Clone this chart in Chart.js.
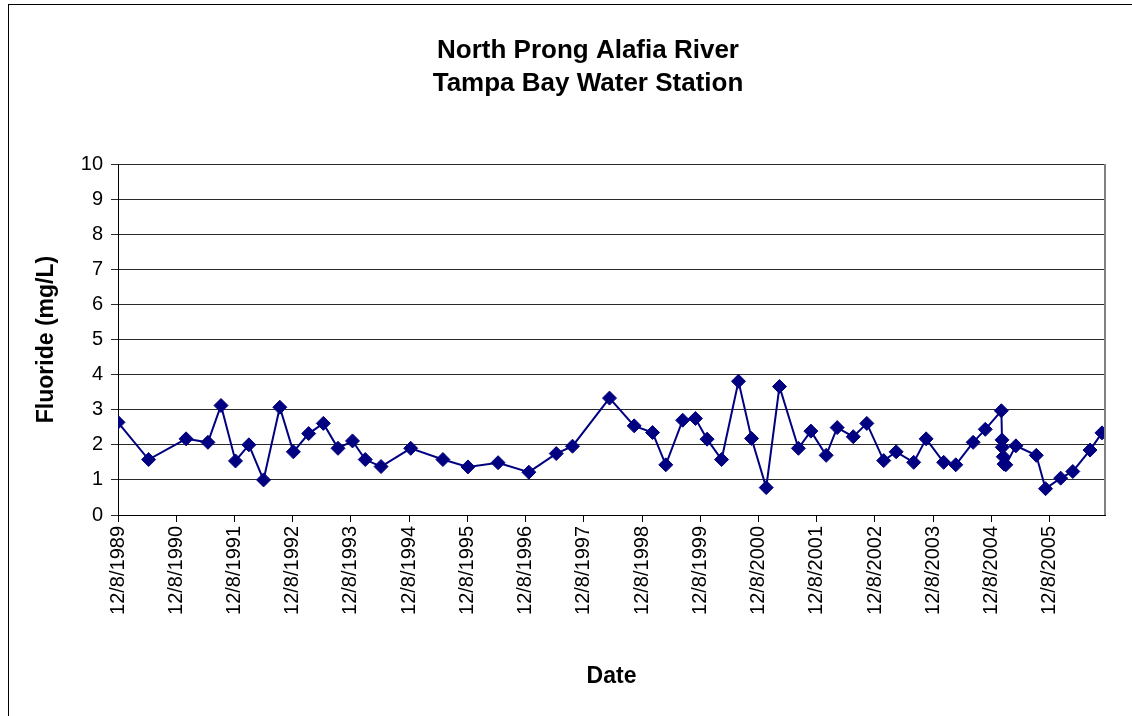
<!DOCTYPE html>
<html>
<head>
<meta charset="utf-8">
<script src="https://cdn.jsdelivr.net/npm/chart.js@4"></script>
<style>
  html, body { margin: 0; padding: 0; background: #fff; overflow: hidden; }
  #wrap { position: absolute; left: 0; top: 0; width: 1132px; height: 716px; }
  #frame { position: absolute; left: 8px; top: 4px; width: 1200px; height: 800px; border: 1px solid #000; }
  canvas { position: absolute; left: 0; top: 0; }
</style>
</head>
<body>
<div id="wrap">
  <div id="frame"></div>
  <canvas id="chart" width="1132" height="716"></canvas>
</div>
<script>
// Sample dates and fluoride readings (mg/L)
const sampleDates = [
  '1989-12-08', '1990-06-18', '1991-02-08', '1991-06-25', '1991-09-15', '1991-12-15',
  '1992-03-08', '1992-06-08', '1992-09-18', '1992-12-12', '1993-03-18', '1993-06-18',
  '1993-09-18', '1993-12-18', '1994-03-08', '1994-06-15', '1994-12-18', '1995-07-08',
  '1995-12-12', '1996-06-18', '1996-12-28', '1997-06-18', '1997-09-28', '1998-05-18',
  '1998-10-20', '1999-02-12', '1999-05-06', '1999-08-20', '1999-11-08', '2000-01-20',
  '2000-04-20', '2000-08-04', '2000-10-25', '2001-01-25', '2001-04-18', '2001-08-15',
  '2001-11-01', '2002-02-05', '2002-04-15', '2002-07-25', '2002-10-18', '2003-02-01',
  '2003-04-20', '2003-08-08', '2003-10-25', '2004-02-12', '2004-04-28', '2004-08-15',
  '2004-10-30', '2005-02-08', '2005-02-12', '2005-02-14', '2005-02-20', '2005-02-25',
  '2005-03-08', '2005-05-10', '2005-09-15', '2005-11-12', '2006-02-15', '2006-05-02',
  '2006-08-18', '2006-11-01',
];
const fluorideValues = [
  2.64, 1.58, 2.17, 2.07, 3.12, 1.54,
  2.00, 1.00, 3.07, 1.80, 2.32, 2.61,
  1.90, 2.11, 1.58, 1.38, 1.90, 1.58,
  1.37, 1.49, 1.22, 1.75, 1.96, 3.33,
  2.54, 2.35, 1.43, 2.70, 2.75, 2.16,
  1.58, 3.81, 2.18, 0.78, 3.66, 1.90,
  2.39, 1.70, 2.49, 2.23, 2.61, 1.55,
  1.80, 1.50, 2.17, 1.50, 1.43, 2.07,
  2.44, 2.97, 2.14, 1.93, 1.66, 1.45,
  1.43, 1.97, 1.70, 0.75, 1.05, 1.24,
  1.85, 2.34,
];
const axisStartDate = '1989-12-08';
const axisEndDate = '2006-11-20';
const titleLines = ['North Prong Alafia River', 'Tampa Bay Water Station'];

const DAY = 86400000;
const start = Date.parse(axisStartDate);
const yearsFromStart = d => (Date.parse(d) - start) / (365.25 * DAY);

const points = sampleDates.map((d, i) => ({ x: yearsFromStart(d), y: fluorideValues[i] }));

const FONT = "Arial, 'Liberation Sans', sans-serif";

// heading drawn over the page centre, like the spreadsheet chart
const heading = {
  id: 'heading',
  afterDraw(chart) {
    const ctx = chart.ctx;
    ctx.save();
    ctx.fillStyle = '#000';
    ctx.font = `bold 26px ${FONT}`;
    ctx.textAlign = 'center';
    ctx.textBaseline = 'middle';
    ctx.fillText(titleLines[0], 588, 51);
    ctx.fillText(titleLines[1], 588, 84);
    ctx.restore();
  },
};

// grey plot-area edge on the right
const plotEdge = {
  id: 'plotEdge',
  afterDatasetsDraw(chart) {
    const { ctx, chartArea: a } = chart;
    ctx.save();
    ctx.strokeStyle = '#808080';
    ctx.lineWidth = 2;
    ctx.beginPath();
    ctx.moveTo(a.right, a.top);
    ctx.lineTo(a.right, a.bottom);
    ctx.stroke();
    ctx.restore();
  },
};

new Chart(document.getElementById('chart'), {
  type: 'line',
  data: {
    datasets: [{
      data: points,
      borderColor: '#000080',
      backgroundColor: '#000080',
      borderWidth: 2,
      pointStyle: 'rectRot',
      pointRadius: 7,
      pointBorderWidth: 1,
      tension: 0,
    }],
  },
  options: {
    responsive: false,
    animation: false,
    layout: { padding: { top: 164, left: 9, right: 27, bottom: 0 } },
    plugins: {
      legend: { display: false },
      tooltip: { enabled: false },
    },
    scales: {
      x: {
        type: 'linear',
        min: 0,
        max: yearsFromStart(axisEndDate),
        afterFit: s => { s.height = 201; },
        afterBuildTicks: s => { s.ticks = s.ticks.filter(t => Number.isInteger(t.value)); },
        border: { color: '#000', width: 1 },
        grid: { drawOnChartArea: false, color: '#000', tickLength: 7 },
        ticks: {
          stepSize: 1,
          minRotation: 90,
          maxRotation: 90,
          autoSkip: false,
          padding: 4,
          color: '#000',
          font: { family: FONT, size: 20 },
          callback: v => '12/8/' + (1989 + v),
        },
        title: {
          display: true,
          text: 'Date',
          color: '#000',
          font: { family: FONT, size: 23, weight: 'bold' },
          padding: { top: 0, bottom: 26 },
        },
      },
      y: {
        min: 0,
        max: 10,
        afterFit: s => { s.width = 109; },
        border: { color: '#000', width: 1 },
        grid: { color: '#2a2a2a', tickLength: 7 },
        ticks: {
          stepSize: 1,
          padding: 8,
          color: '#000',
          font: { family: FONT, size: 20 },
        },
        title: {
          display: true,
          text: 'Fluoride (mg/L)',
          color: '#000',
          font: { family: FONT, size: 23, weight: 'bold' },
          padding: { top: 24, bottom: 0 },
        },
      },
    },
  },
  plugins: [heading, plotEdge],
});
</script>
</body>
</html>
